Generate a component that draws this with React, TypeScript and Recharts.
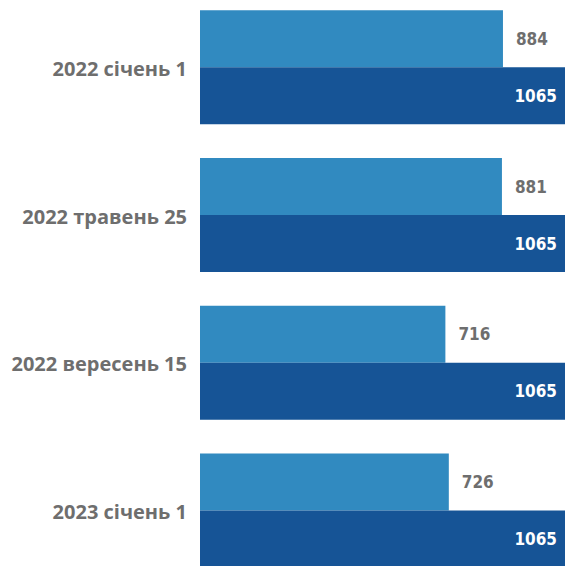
import { Bar, BarChart, LabelList, XAxis, YAxis } from "recharts";

const categories = ["2022 січень 1", "2022 травень 25", "2022 вересень 15", "2023 січень 1"];
const lightValues = [884, 881, 716, 726];
const darkValues = [1065, 1065, 1065, 1065];

const data = categories.map((name, i) => ({
  name,
  light: lightValues[i],
  dark: darkValues[i],
}));

const LIGHT = "#318AC0";
const DARK = "#165496";
const GRAY = "#6E6E6E";

export default function App() {
  return (
    <div style={{ position: "absolute", left: 0, top: 0, width: 565, height: 566, overflow: "hidden", background: "#fff" }}>
      <div style={{ marginTop: -7 }}>
        <BarChart
          width={565}
          height={591}
          data={data}
          layout="vertical"
          margin={{ top: 0, right: 0, left: 0, bottom: 0 }}
          barCategoryGap="11.7%"
          barGap={0}
        >
          <XAxis type="number" hide domain={[0, 1065]} />
          <YAxis
            type="category"
            dataKey="name"
            width={200}
            axisLine={false}
            tickLine={false}
            tickMargin={7}
            tick={{ fill: GRAY, fontSize: 20, fontWeight: 700, fontFamily: "Open Sans", dy: 2 }}
          />
          <Bar dataKey="light" fill={LIGHT} isAnimationActive={false}>
            <LabelList
              dataKey="light"
              position="right"
              offset={13}
              fill={GRAY}
              fontSize={17}
              fontWeight={700}
              fontFamily="DejaVu Sans Condensed"
            />
          </Bar>
          <Bar dataKey="dark" fill={DARK} isAnimationActive={false}>
            <LabelList
              dataKey="dark"
              position="insideRight"
              offset={8}
              fill="#fff"
              fontSize={17}
              fontWeight={700}
              fontFamily="DejaVu Sans Condensed"
            />
          </Bar>
        </BarChart>
      </div>
    </div>
  );
}
